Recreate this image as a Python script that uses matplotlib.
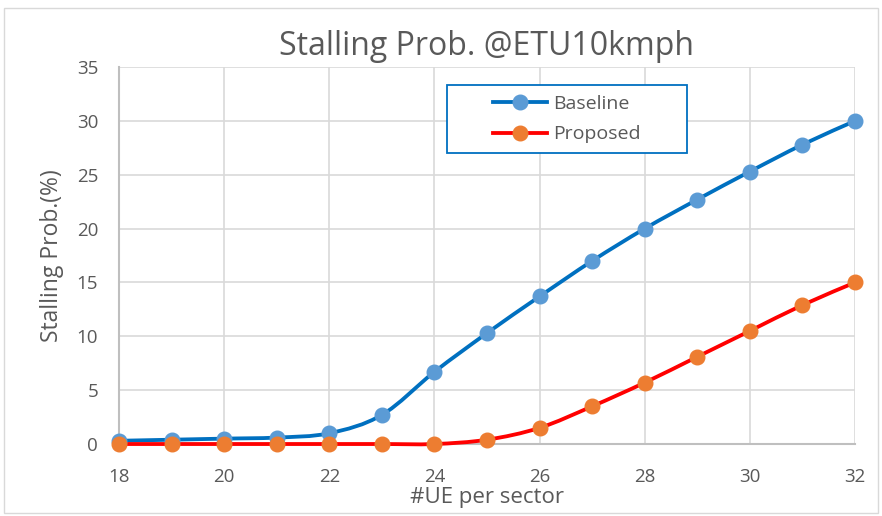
import numpy as np
import matplotlib
matplotlib.use('Agg')
import matplotlib.pyplot as plt
from matplotlib.path import Path
from matplotlib.patches import PathPatch, Rectangle
from matplotlib.lines import Line2D

plt.rcParams['font.family'] = ['Open Sans', 'DejaVu Sans']

# 数据
ue_per_sector = [18, 19, 20, 21, 22, 23, 24, 25, 26, 27, 28, 29, 30, 31, 32]
baseline = [0.3, 0.4, 0.5, 0.6, 1.0, 2.7, 6.7, 10.3, 13.7, 17.0, 20.0, 22.7, 25.3, 27.8, 30.0]
proposed = [0.0, 0.0, 0.0, 0.0, 0.0, 0.0, 0.0, 0.4, 1.5, 3.5, 5.7, 8.1, 10.5, 12.9, 15.0]

text_color = '#595959'


# Excel 风格的平滑曲线 (Bezier 路径)
def smooth_path(xs, ys, t=1 / 6):
    xs = np.asarray(xs, float)
    ys = np.asarray(ys, float)
    n = len(xs)
    verts = [(xs[0], ys[0])]
    codes = [Path.MOVETO]
    for i in range(n - 1):
        x0, y0 = (xs[i - 1], ys[i - 1]) if i > 0 else (xs[i], ys[i])
        x3, y3 = (xs[i + 2], ys[i + 2]) if i + 2 < n else (xs[i + 1], ys[i + 1])
        c1 = (xs[i] + (xs[i + 1] - x0) * t, ys[i] + (ys[i + 1] - y0) * t)
        c2 = (xs[i + 1] - (x3 - xs[i]) * t, ys[i + 1] - (y3 - ys[i]) * t)
        verts += [c1, c2, (xs[i + 1], ys[i + 1])]
        codes += [Path.CURVE4] * 3
    return Path(verts, codes)


fig = plt.figure(figsize=(8.82, 5.16), dpi=100)
ax = fig.add_axes([0.1349, 0.1395, 0.8345, 0.7305])

series = [('Baseline', baseline, '#0070C0', '#5B9BD5'),
          ('Proposed', proposed, '#FF0000', '#ED7D31')]
handles = []
for name, vals, lc, mc in series:
    ax.add_patch(PathPatch(smooth_path(ue_per_sector, vals), facecolor='none',
                           edgecolor=lc, lw=2.75, zorder=3, capstyle='round',
                           clip_on=False))
    ax.plot(ue_per_sector, vals, linestyle='none', marker='o', markersize=10.5,
            color=mc, zorder=4, clip_on=False)
    handles.append(Line2D([], [], color=lc, lw=2.75, marker='o', markersize=10.5,
                          markerfacecolor=mc, markeredgecolor=mc, label=name))

ax.set_xlim(18, 32)
ax.set_ylim(0, 35)
ax.set_xticks(range(18, 33, 2))
ax.set_yticks(range(0, 36, 5))
ax.grid(True, color='#d9d9d9', lw=1.2)
ax.set_axisbelow(True)
for s in ['top', 'right']:
    ax.spines[s].set_visible(False)
for s in ['bottom', 'left']:
    ax.spines[s].set_color('#bfbfbf')
    ax.spines[s].set_linewidth(1.5)
ax.tick_params(length=0, labelsize=13.5, colors=text_color)
ax.tick_params(axis='x', pad=17)
ax.tick_params(axis='y', pad=15)

ax.set_title('Stalling Prob. @ETU10kmph', fontsize=23, color=text_color, pad=9)
ax.set_xlabel('#UE per sector', fontsize=16, color=text_color, labelpad=1)
ax.set_ylabel('Stalling Prob.(%)', fontsize=16.5, color=text_color, labelpad=9)

# 图例 (边框单独绘制, 内容居中)
leg = ax.legend(handles=handles, loc='center', bbox_to_anchor=(0.6087, 0.862),
                frameon=False, fontsize=14, handlelength=2.8,
                labelspacing=0.65, handletextpad=0.3, borderaxespad=0)
for t in leg.get_texts():
    t.set_color(text_color)
ax.add_patch(Rectangle((0.446, 0.772), 0.326, 0.180, transform=ax.transAxes,
                       fill=True, facecolor='white', edgecolor='#0070C0',
                       lw=1.3, zorder=5))
leg.set_zorder(6)

fig.patches.append(Rectangle((0.005, 0.005), 0.99, 0.98, transform=fig.transFigure,
                             fill=False, edgecolor='#d9d9d9', lw=1))

fig.savefig('out.png', dpi=100)
